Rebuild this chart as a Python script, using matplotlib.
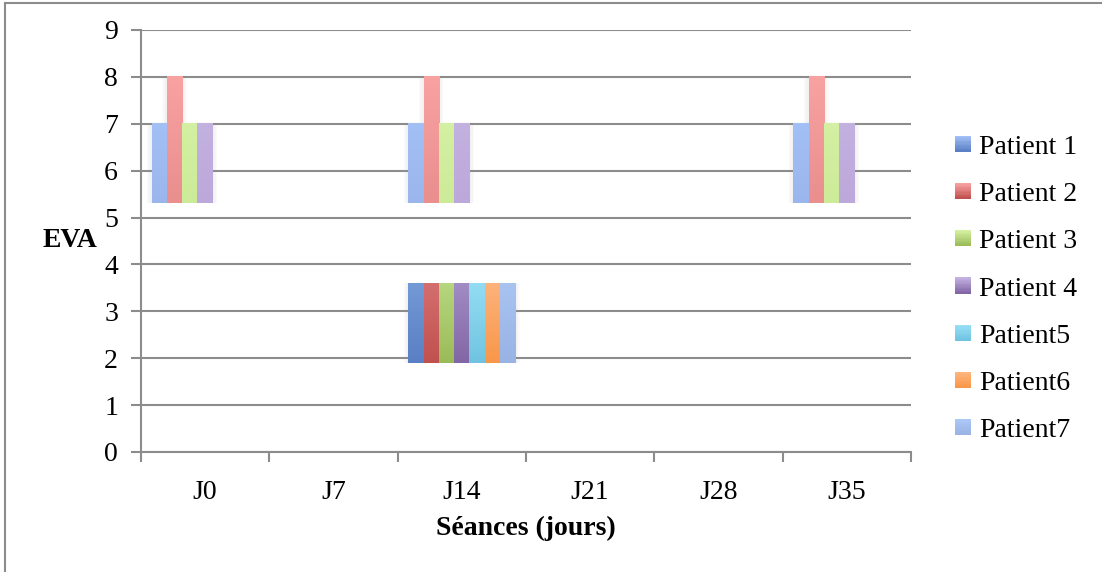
import numpy as np
import matplotlib.pyplot as plt
from matplotlib.colors import to_rgb
from matplotlib.lines import Line2D
from matplotlib.patches import Rectangle
from matplotlib.legend_handler import HandlerBase

plt.rcParams['font.family'] = ['Liberation Serif', 'DejaVu Serif']

sessions = ["J0", "J7", "J14", "J21", "J28", "J35"]
patients = ["Patient 1", "Patient 2", "Patient 3", "Patient 4",
            "Patient5", "Patient6", "Patient7"]

# EVA scores of patients 1-4, shown at J0, J14 and J35 from the floor up
upper_sessions = ["J0", "J14", "J35"]
upper_scores = [7, 8, 7, 7]
upper_floor = 5.3

# band drawn for all seven patients at J14
lower_session = "J14"
lower_bottom = 1.9
lower_top = 3.6

# gradient colours per patient: light (top), mid, dark (bottom)
light = ["#a3c0f6", "#f8a2a2", "#d4f0a2", "#c3b1e0", "#98e0f6", "#feb680", "#adc8f6"]
light2 = ["#9ab6ec", "#ea8e8e", "#cceb98", "#bca8da", "#8fd8ef", "#fcaa70", "#a3bfee"]
mid = ["#7399d6", "#d46e6e", "#b6d67f", "#a18cc4", "#93dcf3", "#fdb27b", "#a9c3f1"]
dark = ["#5a7fc4", "#c0514e", "#9bbb59", "#8266a5", "#70c4e1", "#f8974a", "#98b3e4"]

grid_col = "#8c8c8c"
fs = 20
w = 0.1193


def ramp(top, bottom, n=64):
    t = np.linspace(0, 1, n)[:, None]
    a, b = np.array(to_rgb(top)), np.array(to_rgb(bottom))
    return (a * (1 - t) + b * t)[:, None, :]


def draw_bar(ax, x, y0, y1, top, bottom):
    # soft shadow around the bar
    for k in range(3):
        pad = 0.012 * (k + 1)
        ax.add_patch(Rectangle((x - w / 2 - pad, y0), w + 2 * pad, y1 - y0,
                               color="#909090", alpha=0.04, lw=0, zorder=2))
    ax.imshow(ramp(top, bottom), extent=[x - w / 2, x + w / 2, y0, y1],
              aspect="auto", interpolation="bilinear", zorder=3)


class Swatch:
    def __init__(self, top, bottom):
        self.top, self.bottom = top, bottom


class SwatchHandler(HandlerBase):
    def create_artists(self, legend, orig, xdescent, ydescent, width, height, fontsize, trans):
        n = 12
        side = height
        x0 = -xdescent + (width - side) / 2
        y0 = -ydescent
        cols = ramp(orig.top, orig.bottom, n)[:, 0, :]
        arts = []
        for k in range(n):
            r = Rectangle((x0, y0 + side * (n - 1 - k) / n), side, side / n + 0.3,
                          facecolor=cols[k], lw=0, transform=trans)
            arts.append(r)
        return arts


fig = plt.figure(figsize=(11.02, 5.72), dpi=100)
ax = fig.add_axes([0.1279, 0.2098, 0.6988, 0.7378])

xpos = np.arange(len(sessions))
for s in upper_sessions:
    xc = sessions.index(s)
    for i, v in enumerate(upper_scores):
        draw_bar(ax, xc + (i - 3) * w, upper_floor, v, light[i], light2[i])

xc = sessions.index(lower_session)
for i in range(len(patients)):
    draw_bar(ax, xc + (i - 3) * w, lower_bottom, lower_top, mid[i], dark[i])

ax.set_xlim(-0.5, len(sessions) - 0.5)
ax.set_ylim(0, 9)

ax.set_yticks(range(10))
ax.tick_params(axis="y", length=7.5, width=1.5, color=grid_col, labelsize=fs, pad=9)
ax.yaxis.grid(True, color=grid_col, lw=1.5, zorder=1)
ax.set_axisbelow(True)

ax.set_xticks(np.arange(-0.5, len(sessions)), labels=[])
ax.set_xticks(xpos, labels=sessions, minor=True)
ax.tick_params(axis="x", which="major", length=7.5, width=1.5, color=grid_col)
ax.tick_params(axis="x", which="minor", length=0, labelsize=fs, pad=20)

for side in ["top", "right"]:
    ax.spines[side].set_visible(False)
for side in ["left", "bottom"]:
    ax.spines[side].set_color(grid_col)
    ax.spines[side].set_linewidth(1.5)

ax.set_xlabel("Séances (jours)", fontsize=fs, fontweight="bold", labelpad=8)
ax.text(-0.092, 0.5, "EVA", transform=ax.transAxes, fontsize=fs,
        fontweight="bold", ha="center", va="center")

handles = [Swatch(light[i], dark[i]) for i in range(len(patients))]
ax.legend(handles, patients, handler_map={Swatch: SwatchHandler()},
          loc="center left", bbox_to_anchor=(1.04, 0.386), frameon=False,
          fontsize=fs, handlelength=0.5, handleheight=0.5, handletextpad=0.35,
          labelspacing=0.8, borderpad=0)

# outer frame
fig.add_artist(Line2D([0.0045, 0.0045], [0, 0.995], color=grid_col, lw=1.5))
fig.add_artist(Line2D([0.0045, 1.0], [0.995, 0.995], color=grid_col, lw=1.5))

fig.savefig("out.png", dpi=100)
